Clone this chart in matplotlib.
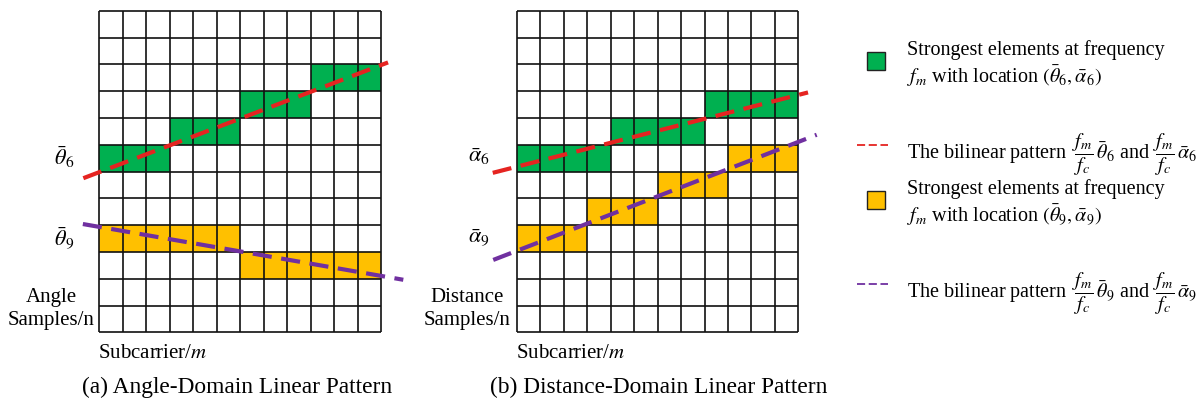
import matplotlib
matplotlib.use('Agg')
import matplotlib.pyplot as plt
from matplotlib.patches import Rectangle
from matplotlib.lines import Line2D
import numpy as np

plt.rcParams['font.family'] = ['Liberation Serif', 'DejaVu Serif']
plt.rcParams['mathtext.fontset'] = 'stix'

# ---------------- data ----------------
n_cols = 12
n_rows = 12

# highlighted blocks: row index (from top), first column, number of columns
a_green_rows = [5, 4, 3, 2]
a_green_start = [0, 3, 6, 9]
a_green_len = [3, 3, 3, 3]
a_orange_rows = [8, 9]
a_orange_start = [0, 6]
a_orange_len = [6, 6]

b_green_rows = [5, 4, 3]
b_green_start = [0, 4, 8]
b_green_len = [4, 4, 4]
b_orange_rows = [8, 7, 6, 5]
b_orange_start = [0, 3, 6, 9]
b_orange_len = [3, 3, 3, 3]

# dashed bilinear pattern lines (column, row) end points
a_red_x = [-0.68, 12.3]
a_red_y = [6.25, 1.93]
a_purple_x = [-0.7, 12.95]
a_purple_y = [7.96, 10.04]
b_red_x = [-1.02, 12.41]
b_red_y = [6.05, 3.05]
b_purple_x = [-1.0, 12.78]
b_purple_y = [9.3, 4.63]

a_labels = [r'$\bar{\theta}_6$', r'$\bar{\theta}_9$']
b_labels = [r'$\bar{\alpha}_6$', r'$\bar{\alpha}_9$']
a_ylabel = 'Angle\nSamples/n'
b_ylabel = 'Distance\nSamples/n'
xlabel = r'Subcarrier/$m$'
captions = ['(a) Angle-Domain Linear Pattern', '(b) Distance-Domain Linear Pattern']

legend_texts = [
    ['Strongest elements at frequency', r'$f_m$ with location $(\bar{\theta}_6, \bar{\alpha}_6)$'],
    [r'The bilinear pattern $\;\dfrac{f_m}{f_c}\,\bar{\theta}_6$ and $\,\dfrac{f_m}{f_c}\,\bar{\alpha}_6$'],
    ['Strongest elements at frequency', r'$f_m$ with location $(\bar{\theta}_9, \bar{\alpha}_9)$'],
    [r'The bilinear pattern $\;\dfrac{f_m}{f_c}\,\bar{\theta}_9$ and $\,\dfrac{f_m}{f_c}\,\bar{\alpha}_9$'],
]

GREEN = '#00B050'
ORANGE = '#FFC000'
RED = '#E52421'
PURPLE = '#7030A0'

W, H = 1203, 402
fig = plt.figure(figsize=(W / 100, H / 100), dpi=100)
fig.patch.set_facecolor('white')

FS_TXT = 14.5
FS_AX = 15
FS_CAP = 16.8
FS_SYM = 16


def grid_axes(left_px):
    top_px, bottom_px = 11.7, 333.3
    width_px = 281.7
    return fig.add_axes([left_px / W, (H - bottom_px) / H, width_px / W, (bottom_px - top_px) / H])


def draw_grid(ax, g_rows, g_start, g_len, o_rows, o_start, o_len,
              rx, ry, px, py, labels, ylab, label_x, ylab_x):
    ax.set_xlim(0, n_cols)
    ax.set_ylim(n_rows, 0)
    ax.axis('off')
    ax.barh(g_rows, g_len, left=g_start, height=1, align='edge', color=GREEN, zorder=1)
    ax.barh(o_rows, o_len, left=o_start, height=1, align='edge', color=ORANGE, zorder=1)
    ax.vlines(np.arange(n_cols + 1), 0, n_rows, color='#111111', lw=1.2, zorder=2, clip_on=False)
    ax.hlines(np.arange(n_rows + 1), 0, n_cols, color='#111111', lw=1.2, zorder=2, clip_on=False)
    ax.plot(rx, ry, color=RED, lw=3.0, dashes=(4.6, 2.3), dash_capstyle='butt',
            clip_on=False, zorder=5)
    ax.plot(px, py, color=PURPLE, lw=3.0, dashes=(4.6, 2.3), dash_capstyle='butt',
            clip_on=False, zorder=5)
    ax.text(label_x, g_rows[0] + 0.42, labels[0], ha='center', va='center', fontsize=FS_SYM)
    ax.text(label_x, o_rows[0] + 0.48, labels[1], ha='center', va='center', fontsize=FS_SYM)
    ax.text(ylab_x, 11.1, ylab, ha='center', va='center', fontsize=FS_AX, linespacing=1.25)
    ax.text(-0.04, 12.75, xlabel, ha='left', va='center', fontsize=FS_AX)


axa = grid_axes(99.3)
draw_grid(axa, a_green_rows, a_green_start, a_green_len, a_orange_rows, a_orange_start, a_orange_len,
          a_red_x, a_red_y, a_purple_x, a_purple_y, a_labels, a_ylabel, -1.5, -2.05)
axb = grid_axes(516.7)
draw_grid(axb, b_green_rows, b_green_start, b_green_len, b_orange_rows, b_orange_start, b_orange_len,
          b_red_x, b_red_y, b_purple_x, b_purple_y, b_labels, b_ylabel, -1.6, -2.1)

fig.text(237.4 / W, 1 - 387 / H, captions[0], ha='center', va='center', fontsize=FS_CAP)
fig.text(658.3 / W, 1 - 387 / H, captions[1], ha='center', va='center', fontsize=FS_CAP)

# ---------------- legend ----------------
lax = fig.add_axes([0, 0, 1, 1])
lax.set_xlim(0, W)
lax.set_ylim(H, 0)
lax.axis('off')
lax.patch.set_alpha(0)

entry_y = [61.5, 145.5, 200.5, 284.5]
kinds = ['patch', 'line', 'patch', 'line']
colors = [GREEN, RED, ORANGE, PURPLE]
text_x = 906.7
for y, kind, c, txt in zip(entry_y, kinds, colors, legend_texts):
    if kind == 'patch':
        lax.add_patch(Rectangle((867, y - 9), 18, 18, facecolor=c, edgecolor='#222222', lw=1.0))
        lax.text(text_x, y - 13.5, txt[0], ha='left', va='center_baseline', fontsize=FS_TXT)
        lax.text(text_x, y + 12, txt[1], ha='left', va='center_baseline', fontsize=FS_TXT)
    else:
        lax.add_line(Line2D([857, 888], [y, y], color=c, lw=1.3, dashes=(4.5, 2.0)))
        lax.text(text_x, y, txt[0], ha='left', va='center_baseline', fontsize=FS_TXT)

fig.savefig('out.png', dpi=100, facecolor='white')
